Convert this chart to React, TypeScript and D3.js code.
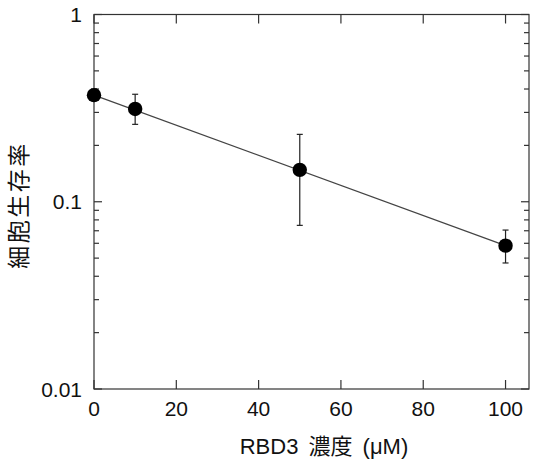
import React from "react";
import * as d3 from "d3";

const concentrations = [0, 10, 50, 100];
const survival = [0.371, 0.313, 0.148, 0.0583];
const errLow = [0.35, 0.259, 0.0748, 0.0471];
const errHigh = [0.4, 0.375, 0.229, 0.0706];
const fitX = [0, 100];
const fitY = [0.371, 0.0583];
const xTicks = [0, 20, 40, 60, 80, 100];
const yTicks = [1, 0.1, 0.01];
const yTickLabels = ["1", "0.1", "0.01"];

const W = 535, H = 461;
const L = 94, R = 529, T = 14.5, B = 389;

export default function App() {
  const x = d3.scaleLinear().domain([0, 105.7]).range([L, R]);
  const y = d3.scaleLog().domain([0.01, 1]).range([B, T]);
  const minor: number[] = [];
  for (const dec of [0.01, 0.1]) for (let k = 2; k <= 9; k++) minor.push(dec * k);
  const line = d3.line<number>().x((_, i) => x(fitX[i])).y((d) => y(d));
  const font = "'Liberation Sans', Arial, sans-serif";
  const axisColor = "#333";
  return (
    <svg width={W} height={H} style={{ position: "absolute", left: 0, top: 0 }}>
      <rect x={0} y={0} width={W} height={H} fill="#fff" />
      <g stroke={axisColor} strokeWidth={1.2} fill="none">
        <rect x={L} y={T} width={R - L} height={B - T} />
        {xTicks.map((t) => (
          <g key={"xt" + t}>
            <line x1={x(t)} x2={x(t)} y1={B} y2={B - 9} />
            <line x1={x(t)} x2={x(t)} y1={T} y2={T + 9} />
          </g>
        ))}
        {yTicks.map((t) => (
          <g key={"yt" + t}>
            <line x1={L} x2={L + 8} y1={y(t)} y2={y(t)} />
            <line x1={R} x2={R - 8} y1={y(t)} y2={y(t)} />
          </g>
        ))}
        {minor.map((t) => (
          <g key={"ym" + t}>
            <line x1={L} x2={L + 5} y1={y(t)} y2={y(t)} />
            <line x1={R} x2={R - 5} y1={y(t)} y2={y(t)} />
          </g>
        ))}
      </g>
      <path d={line(fitY) || ""} stroke="#444" strokeWidth={1.2} fill="none" />
      <g stroke="#222" strokeWidth={1.2}>
        {concentrations.map((c, i) => (
          <g key={"e" + i}>
            <line x1={x(c)} x2={x(c)} y1={y(errLow[i])} y2={y(errHigh[i])} />
            <line x1={x(c) - 3} x2={x(c) + 3} y1={y(errLow[i])} y2={y(errLow[i])} />
            <line x1={x(c) - 3} x2={x(c) + 3} y1={y(errHigh[i])} y2={y(errHigh[i])} />
          </g>
        ))}
      </g>
      {concentrations.map((c, i) => (
        <circle key={"p" + i} cx={x(c)} cy={y(survival[i])} r={7.2} fill="#000" />
      ))}
      <g fontFamily={font} fontSize={21} fill="#111">
        {xTicks.map((t) => (
          <text key={"xl" + t} x={x(t)} y={416} textAnchor="middle">{t}</text>
        ))}
        {yTicks.map((t, i) => (
          <text key={"yl" + t} x={82} y={y(t) + 7.5} textAnchor="end">{yTickLabels[i]}</text>
        ))}
      </g>
      <text x={324} y={454} textAnchor="middle" fontSize={22} wordSpacing={4} fill="#111"
        fontFamily="'Liberation Sans', Arial, 'Noto Sans CJK JP', sans-serif">RBD3 濃度 (μM)</text>
      <text transform="translate(27,205) rotate(-90)" textAnchor="middle" fontSize={23}
        letterSpacing={2.5} fill="#111" fontFamily="'Noto Sans CJK JP', sans-serif">細胞生存率</text>
    </svg>
  );
}
